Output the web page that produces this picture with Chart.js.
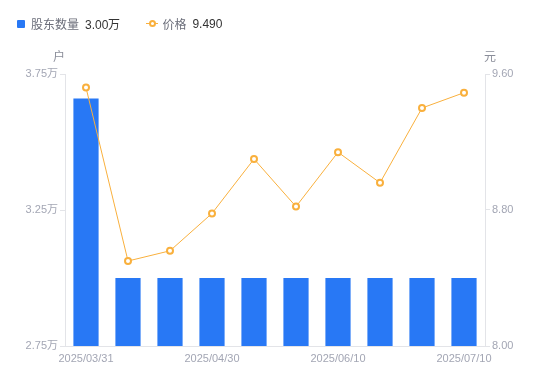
<!DOCTYPE html>
<html lang="zh-CN">
  <head>
    <meta charset="UTF-8" />
    <title>股东数量与价格</title>
    <script src="https://cdn.jsdelivr.net/npm/chart.js"></script>
    <style>
      html, body { margin: 0; padding: 0; background: #fff; }
      #wrap { position: relative; width: 550px; height: 381px; }
      canvas { display: block; }
      .legend {
        position: absolute; top: 15px; left: 17px;
        font-family: "Noto Sans CJK SC", "Noto Sans", sans-serif;
        font-size: 12px; display: flex; align-items: center;
      }
      .legend .item { display: flex; align-items: center; margin-right: 26px; }
      .legend .box { width: 8px; height: 8px; background: #2878f5; border-radius: 1px; margin-right: 6px; }
      .legend .name { color: #6b6e7a; margin-right: 6px; }
      .legend .val { color: #333; font-family: "Liberation Sans", "Noto Sans", sans-serif; }
      .legend .lineicon { position: relative; width: 12px; height: 8px; margin-right: 4px; }
      .legend .lineicon::before {
        content: ""; position: absolute; left: 0; right: 0; top: 3.5px; height: 1px; background: #f9b03d;
      }
      .legend .lineicon::after {
        content: ""; position: absolute; left: 3px; top: 0.5px; width: 3px; height: 3px;
        border: 2px solid #f9b03d; border-radius: 50%; background: #fff;
      }
    </style>
  </head>
  <body>
    <div id="wrap">
      <canvas id="chart" width="550" height="381"></canvas>
      <div class="legend">
        <div class="item"><span class="box"></span><span class="name">股东数量</span><span class="val">3.00万</span></div>
        <div class="item"><span class="lineicon"></span><span class="name">价格</span><span class="val">9.490</span></div>
      </div>
    </div>

    <script>
      // data
      const dates = [
        "2025/03/31", "2025/04/10", "2025/04/20", "2025/04/30", "2025/05/20",
        "2025/05/31", "2025/06/10", "2025/06/20", "2025/06/30", "2025/07/10"
      ];
      const holders = [3.66, 3.0, 3.0, 3.0, 3.0, 3.0, 3.0, 3.0, 3.0, 3.0]; // 万户
      const prices = [9.52, 8.5, 8.56, 8.78, 9.1, 8.82, 9.14, 8.96, 9.4, 9.49];
      const holderTicks = [2.75, 3.25, 3.75];
      const priceTicks = [8.0, 8.8, 9.6];

      const tickColor = "#a3a6b4";
      const lineColor = "#e3e4e8";
      const numFont = { family: "'Liberation Sans', 'Noto Sans CJK SC', sans-serif", size: 11 };

      // unit labels above the two y axes
      const unitTitles = {
        id: "unitTitles",
        afterDraw(chart) {
          const ctx = chart.ctx;
          const a = chart.chartArea;
          ctx.save();
          ctx.fillStyle = "#8a8d99";
          ctx.font = "12px 'Noto Sans CJK SC', sans-serif";
          ctx.textBaseline = "middle";
          ctx.textAlign = "center";
          ctx.fillText("户", a.left - 6, 56);
          ctx.fillText("元", a.right + 5, 56);
          ctx.restore();
        }
      };

      new Chart(document.getElementById("chart"), {
        data: {
          labels: dates,
          datasets: [
            {
              type: "line",
              label: "价格",
              data: prices,
              yAxisID: "yPrice",
              borderColor: "#f9b03d",
              borderWidth: 1,
              backgroundColor: "#fff",
              pointBackgroundColor: "#fff",
              pointBorderColor: "#f9b03d",
              pointBorderWidth: 2,
              pointRadius: 3,
              tension: 0,
              order: 0
            },
            {
              type: "bar",
              label: "股东数量",
              data: holders,
              yAxisID: "yHolders",
              backgroundColor: "#2878f5",
              categoryPercentage: 1,
              barPercentage: 0.6,
              order: 1
            }
          ]
        },
        options: {
          responsive: false,
          animation: false,
          layout: { padding: { top: 74, left: 0, right: 0, bottom: 0 } },
          plugins: { legend: { display: false }, tooltip: { enabled: false } },
          scales: {
            x: {
              offset: true,
              grid: { display: false, drawTicks: false },
              border: { color: lineColor },
              afterFit(scale) { scale.height = 35; },
              ticks: {
                color: tickColor,
                font: numFont,
                autoSkip: false,
                maxRotation: 0,
                padding: 6,
                callback(v, i) { return i % 3 === 0 ? dates[i] : ""; }
              }
            },
            yHolders: {
              position: "left",
              min: 2.75,
              max: 3.75,
              afterFit(scale) { scale.width = 65; },
              afterBuildTicks(scale) { scale.ticks = holderTicks.map(v => ({ value: v })); },
              grid: { drawOnChartArea: false, drawTicks: true, tickLength: 5, color: lineColor },
              border: { color: lineColor },
              ticks: {
                color: tickColor,
                font: numFont,
                padding: 2,
                callback(v) { return v.toFixed(2) + "万"; }
              }
            },
            yPrice: {
              position: "right",
              min: 8,
              max: 9.6,
              afterFit(scale) { scale.width = 65; },
              afterBuildTicks(scale) { scale.ticks = priceTicks.map(v => ({ value: v })); },
              grid: { drawOnChartArea: false, drawTicks: true, tickLength: 5, color: lineColor },
              border: { color: lineColor },
              ticks: {
                color: tickColor,
                font: numFont,
                padding: 2,
                callback(v) { return v.toFixed(2); }
              }
            }
          }
        },
        plugins: [unitTitles]
      });
    </script>
  </body>
</html>
